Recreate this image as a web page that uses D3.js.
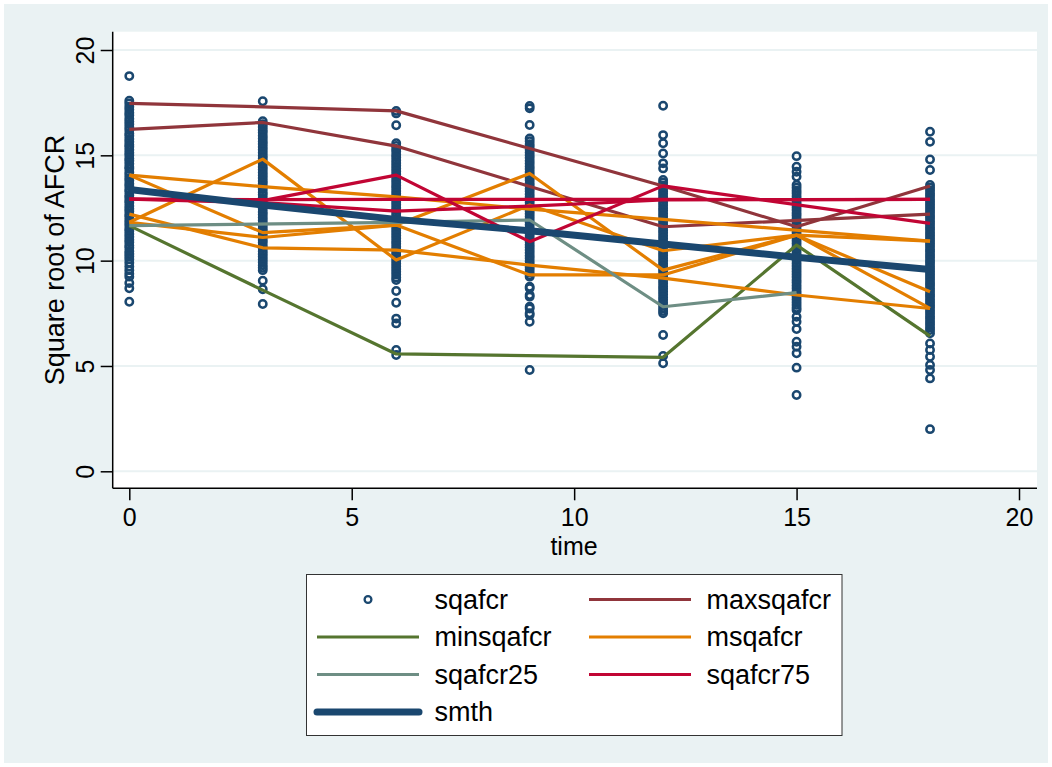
<!DOCTYPE html>
<html>
<head>
<meta charset="utf-8">
<script src="https://cdn.jsdelivr.net/npm/d3@7"></script>
<style>
  body { margin: 0; background: #fff; }
  text { font-family: "Liberation Sans", Arial, sans-serif; fill: #000; }
</style>
</head>
<body>
<svg id="chart" width="1052" height="767"></svg>
<script>
// x ticks / y ticks
var xTicks = [0, 5, 10, 15, 20];
var yTicks = [0, 5, 10, 15, 20];

// sqafcr observations, one array per visit time
var obsTimes = [0, 3, 6, 9, 12, 15, 18];
var obs0 = [18.76, 17.59, 17.46, 17.31, 17.18, 17.02, 16.9, 16.74, 16.61, 16.47, 16.33, 16.2, 16.04, 15.93, 15.78, 15.65, 15.5, 15.41, 15.26, 15.12, 15.0, 14.85, 14.74, 14.6, 14.45, 14.36, 14.2, 14.07, 13.92, 13.81, 13.65, 13.53, 13.38, 13.27, 13.11, 13.0, 12.86, 12.75, 12.6, 12.46, 12.35, 12.19, 12.08, 11.93, 11.8, 11.67, 11.52, 11.41, 11.26, 11.14, 10.99, 10.87, 10.72, 10.61, 10.45, 10.33, 10.2, 10.07, 9.9, 9.72, 9.55, 9.38, 9.24, 8.94, 8.69, 8.05];
var obs3 = [17.57, 16.62, 16.48, 16.35, 16.2, 16.08, 15.93, 15.8, 15.66, 15.54, 15.4, 15.27, 15.12, 14.98, 14.86, 14.72, 14.6, 14.45, 14.33, 14.18, 14.06, 13.92, 13.78, 13.66, 13.51, 13.4, 13.25, 13.13, 12.98, 12.85, 12.72, 12.58, 12.46, 12.31, 12.19, 12.05, 11.92, 11.78, 11.66, 11.52, 11.39, 11.25, 11.12, 10.98, 10.86, 10.71, 10.59, 10.45, 10.32, 10.18, 10.05, 9.92, 9.78, 9.66, 9.55, 9.05, 8.64, 7.94];
var obs6 = [17.11, 16.99, 16.43, 15.57, 15.44, 15.3, 15.18, 15.03, 14.91, 14.77, 14.64, 14.5, 14.38, 14.24, 14.1, 13.98, 13.84, 13.71, 13.57, 13.45, 13.31, 13.18, 13.04, 12.92, 12.78, 12.65, 12.51, 12.39, 12.25, 12.12, 11.98, 11.86, 11.72, 11.59, 11.45, 11.33, 11.19, 11.06, 10.92, 10.8, 10.66, 10.53, 10.39, 10.27, 10.13, 10.0, 9.86, 9.74, 9.6, 9.47, 9.34, 9.2, 9.08, 8.56, 8.0, 7.25, 7.02, 5.76, 5.52];
var obs9 = [17.34, 17.23, 16.44, 15.8, 15.67, 15.53, 15.41, 15.27, 15.14, 15.0, 14.88, 14.74, 14.61, 14.47, 14.35, 14.21, 14.08, 13.94, 13.82, 13.68, 13.55, 13.41, 13.29, 13.15, 13.02, 12.88, 12.76, 12.62, 12.49, 12.35, 12.23, 12.09, 11.96, 11.82, 11.7, 11.56, 11.43, 11.29, 11.17, 11.03, 10.9, 10.76, 10.64, 10.5, 10.37, 10.23, 10.11, 9.97, 9.84, 9.7, 9.58, 9.44, 9.31, 9.24, 8.76, 8.69, 8.37, 8.29, 7.81, 7.73, 7.5, 7.42, 7.1, 4.81];
var obs12 = [17.35, 15.96, 15.57, 15.09, 14.62, 14.38, 13.83, 13.7, 13.56, 13.44, 13.3, 13.17, 13.03, 12.91, 12.77, 12.64, 12.5, 12.38, 12.24, 12.11, 11.97, 11.85, 11.71, 11.58, 11.44, 11.32, 11.18, 11.05, 10.91, 10.79, 10.65, 10.52, 10.38, 10.26, 10.12, 9.99, 9.85, 9.73, 9.59, 9.46, 9.32, 9.2, 9.06, 8.93, 8.79, 8.67, 8.53, 8.4, 8.26, 8.14, 8.0, 7.87, 7.73, 7.61, 7.5, 6.47, 5.47, 5.13];
var obs15 = [14.96, 14.46, 14.22, 13.98, 13.59, 13.46, 13.32, 13.2, 13.06, 12.93, 12.79, 12.67, 12.53, 12.4, 12.26, 12.14, 12.0, 11.87, 11.73, 11.61, 11.47, 11.34, 11.2, 11.08, 10.94, 10.81, 10.67, 10.55, 10.41, 10.28, 10.14, 10.02, 9.88, 9.75, 9.61, 9.49, 9.35, 9.22, 9.08, 8.96, 8.82, 8.69, 8.55, 8.43, 8.29, 8.16, 8.02, 7.9, 7.76, 7.66, 7.34, 7.1, 6.75, 6.15, 5.91, 5.6, 4.92, 3.62];
var obs18 = [16.12, 15.64, 14.8, 14.3, 13.59, 13.46, 13.33, 13.19, 13.07, 12.93, 12.8, 12.66, 12.54, 12.4, 12.27, 12.13, 12.01, 11.87, 11.74, 11.6, 11.48, 11.34, 11.21, 11.07, 10.95, 10.81, 10.68, 10.54, 10.42, 10.28, 10.15, 10.01, 9.89, 9.75, 9.62, 9.48, 9.36, 9.22, 9.09, 8.95, 8.83, 8.69, 8.56, 8.42, 8.3, 8.16, 8.03, 7.89, 7.77, 7.63, 7.5, 7.36, 7.24, 7.1, 6.97, 6.83, 6.71, 6.55, 6.07, 5.76, 5.44, 5.05, 4.81, 4.41, 2.0];
var obsByTime = [obs0, obs3, obs6, obs9, obs12, obs15, obs18];

// connected lines: [time, value] vertices
var maxsqafcr = [
  [[0, 17.47], [3, 17.3], [6, 17.11], [12, 13.54], [15, 11.61], [18, 13.54]],
  [[0, 16.23], [3, 16.56], [6, 15.44], [12, 11.61], [18, 12.21]]
];
var minsqafcr = [
  [[0, 11.66], [3, 8.6], [6, 5.57], [12, 5.41], [15, 10.74], [18, 6.42]]
];
var msqafcr = [
  [[0, 14.06], [3, 13.51], [6, 13.03], [9, 12.45], [12, 11.96], [18, 10.93]],
  [[0, 11.82], [3, 14.82], [6, 10.03], [9, 12.64], [12, 10.47], [15, 11.21], [18, 10.93]],
  [[0, 14.06], [3, 11.33], [6, 11.69], [9, 14.14], [12, 9.55], [15, 11.21], [18, 8.52]],
  [[0, 12.21], [3, 10.61], [6, 10.5], [9, 9.79], [12, 9.17], [15, 8.37], [18, 7.73]],
  [[0, 11.82], [3, 11.1], [6, 11.69], [9, 9.32], [12, 9.32], [15, 11.21], [18, 7.73]]
];
var sqafcr25 = [
  [[0, 11.66], [6, 11.82], [9, 11.93], [12, 7.81], [15, 8.48]]
];
var sqafcr75 = [
  [[0, 12.92], [3, 12.9], [6, 12.91], [9, 12.91], [12, 12.91], [15, 12.9], [18, 12.91]],
  [[0, 12.92], [3, 12.85], [6, 14.06], [9, 10.9], [12, 13.55], [18, 11.77]],
  [[0, 12.92], [3, 12.75], [6, 12.35], [9, 12.59], [12, 12.88], [18, 12.91]]
];
var smth = [
  [[0, 13.38], [3, 12.64], [6, 11.96], [9, 11.42], [12, 10.79], [15, 10.16], [18, 9.58]]
];

var seriesNames = ["sqafcr", "maxsqafcr", "minsqafcr", "msqafcr", "sqafcr25", "sqafcr75", "smth"];
var seriesColors = ["#1a476f", "#90353b", "#55752f", "#e37e00", "#6e8e84", "#c10534", "#1a476f"];
var seriesWidths = [0, 3.2, 3.2, 3.2, 3.2, 3.2, 7];
var lineSets = [null, maxsqafcr, minsqafcr, msqafcr, sqafcr25, sqafcr75, smth];

var svg = d3.select("#chart");

// graph region background
svg.append("rect").attr("x", 4).attr("y", 4).attr("width", 1044).attr("height", 759)
  .attr("fill", "#eaf2f3");

var plotL = 112.7, plotR = 1037, plotT = 31.7, plotB = 488.3;
svg.append("rect").attr("x", plotL).attr("y", plotT)
  .attr("width", plotR - plotL).attr("height", plotB - plotT).attr("fill", "#fff");

var x = d3.scaleLinear().domain([0, 20]).range([129.3, 1019]);
var y = d3.scaleLinear().domain([0, 20]).range([471.3, 50]);

// gridlines
svg.append("g").selectAll("line").data(yTicks).enter().append("line")
  .attr("x1", plotL).attr("x2", plotR)
  .attr("y1", function(d) { return y(d); }).attr("y2", function(d) { return y(d); })
  .attr("stroke", "#eaf2f3").attr("stroke-width", 2);

// scatter
var pts = [];
obsTimes.forEach(function(t, i) {
  obsByTime[i].forEach(function(v) { pts.push([t, v]); });
});
svg.append("g").selectAll("circle").data(pts).enter().append("circle")
  .attr("cx", function(d) { return x(d[0]); })
  .attr("cy", function(d) { return y(d[1]); })
  .attr("r", 3.7)
  .attr("fill", "none")
  .attr("stroke", "#1a476f")
  .attr("stroke-width", 2.5);

// lines
var line = d3.line().x(function(d) { return x(d[0]); }).y(function(d) { return y(d[1]); });
for (var s = 1; s < lineSets.length; s++) {
  svg.append("g").selectAll("path").data(lineSets[s]).enter().append("path")
    .attr("d", line)
    .attr("fill", "none")
    .attr("stroke", seriesColors[s])
    .attr("stroke-width", seriesWidths[s])
    .attr("stroke-linejoin", "round");
}

// y axis
var yAxis = svg.append("g").attr("transform", "translate(" + plotL + ",0)")
  .call(d3.axisLeft(y).tickValues(yTicks).tickSize(12).tickSizeOuter(0).tickPadding(6));
yAxis.select(".domain").attr("d", "M0," + plotT + "V" + plotB).attr("stroke", "#000").attr("stroke-width", 1.5);
yAxis.selectAll(".tick line").attr("stroke", "#000").attr("stroke-width", 1.5);
yAxis.selectAll(".tick text")
  .attr("x", 0).attr("dy", null)
  .attr("transform", "translate(-28,0) rotate(-90)")
  .attr("text-anchor", "middle")
  .attr("dominant-baseline", "central")
  .style("font-size", "25px")
  .style("font-family", "'Liberation Sans', Arial, sans-serif");

// x axis
var xAxis = svg.append("g").attr("transform", "translate(0," + plotB + ")")
  .call(d3.axisBottom(x).tickValues(xTicks).tickSize(12).tickSizeOuter(0).tickPadding(8));
xAxis.select(".domain").attr("d", "M" + plotL + ",0H" + plotR).attr("stroke", "#000").attr("stroke-width", 1.5);
xAxis.selectAll(".tick line").attr("stroke", "#000").attr("stroke-width", 1.5);
xAxis.selectAll(".tick text")
  .style("font-size", "25px")
  .style("font-family", "'Liberation Sans', Arial, sans-serif");

// axis titles
svg.append("text").attr("x", 574).attr("y", 546)
  .attr("text-anchor", "middle").attr("dominant-baseline", "central")
  .style("font-size", "25px").text("time");
svg.append("text").attr("transform", "translate(55,260) rotate(-90)")
  .attr("text-anchor", "middle").attr("dominant-baseline", "central")
  .style("font-size", "27px").text("Square root of AFCR");

// legend
var lg = svg.append("g");
lg.append("rect").attr("x", 306.5).attr("y", 574.5).attr("width", 535.5).attr("height", 161)
  .attr("fill", "#fff").attr("stroke", "#333").attr("stroke-width", 1);
var colX = [317, 589], textX = [434.5, 706.5], rowY = [599.5, 637, 674.5, 712];
seriesNames.forEach(function(name, i) {
  var c = i % 2, r = Math.floor(i / 2);
  var g = lg.append("g");
  if (i === 0) {
    g.append("circle").attr("cx", colX[c] + 51).attr("cy", rowY[r]).attr("r", 3.4)
      .attr("fill", "none").attr("stroke", seriesColors[i]).attr("stroke-width", 2.3);
  } else {
    g.append("line").attr("x1", colX[c]).attr("x2", colX[c] + 102)
      .attr("y1", rowY[r]).attr("y2", rowY[r])
      .attr("stroke", seriesColors[i]).attr("stroke-width", seriesWidths[i])
      .attr("stroke-linecap", i === 6 ? "round" : "butt");
  }
  g.append("text").attr("x", textX[c]).attr("y", rowY[r])
    .attr("dominant-baseline", "central")
    .style("font-size", "27px").text(name);
});
</script>
</body>
</html>
